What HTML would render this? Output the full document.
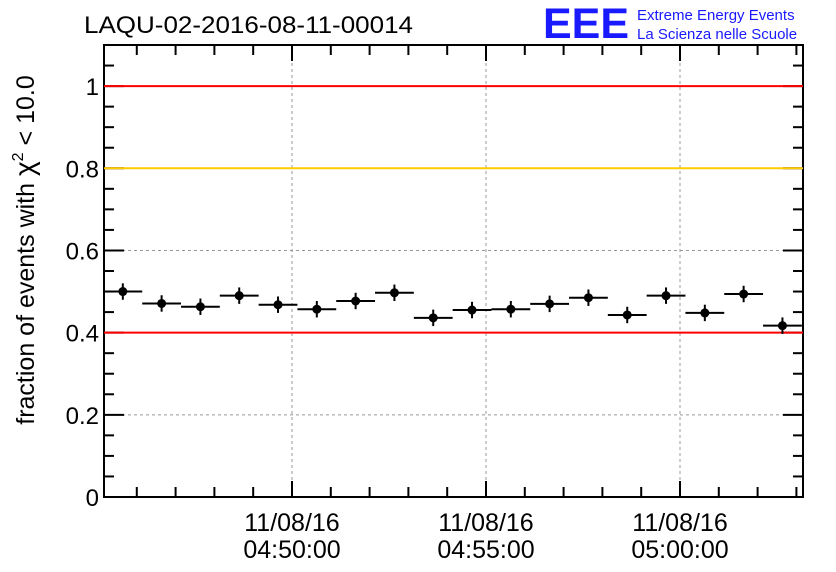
<!DOCTYPE html>
<html><head><meta charset="utf-8"><style>
html,body{margin:0;padding:0;background:#fff;}
svg{display:block;font-family:"Liberation Sans",Arial,sans-serif;}
</style></head><body>
<svg id="c" width="836" height="572" viewBox="0 0 836 572">
<rect x="0" y="0" width="836" height="572" fill="#fff"/>
<text x="84" y="33" font-size="24" fill="#000" textLength="329" lengthAdjust="spacingAndGlyphs">LAQU-02-2016-08-11-00014</text>
<text x="543" y="38" font-size="43" font-weight="bold" fill="#1a1aff" textLength="86" lengthAdjust="spacingAndGlyphs">EEE</text>
<text x="637" y="20" font-size="15" fill="#1a1aff">Extreme Energy Events</text>
<text x="637" y="39" font-size="15" fill="#1a1aff">La Scienza nelle Scuole</text>
<text transform="translate(34,250) rotate(-90)" text-anchor="middle" font-size="25">fraction of events with <tspan font-size="28">χ</tspan><tspan dy="-11" font-size="16">2</tspan><tspan dy="11"> &lt; 10.0</tspan></text>
<g id="grid"></g><g id="axes"></g><g id="marks"></g>
</svg>
<script>
const timeLabels=["04:50:00","04:55:00","05:00:00"];
const timeTicks=[0,5,10];
const yTicks=[0,0.2,0.4,0.6,0.8,1];
const yTickLabels=["0","0.2","0.4","0.6","0.8","1"];
const binCenters=[-4.36,-3.36,-2.36,-1.36,-0.36,0.64,1.64,2.64,3.64,4.64,5.64,6.64,7.64,8.64,9.64,10.64,11.64,12.64];
const fractions=[0.500,0.471,0.463,0.490,0.468,0.457,0.477,0.497,0.436,0.455,0.457,0.470,0.485,0.443,0.490,0.448,0.494,0.417];
const errors=[0.02,0.02,0.02,0.02,0.02,0.02,0.02,0.02,0.02,0.02,0.02,0.02,0.02,0.02,0.02,0.02,0.02,0.02];
const refLines=[1,0.8,0.4];
const refColors=["#ff0000","#ffcc00","#ff0000"];
const L=104,R=803,T=45,B=497;
const xMin=-4.845,xMax=13.17,yMin=0,yMax=1.1;
const X=v=>L+(v-xMin)/(xMax-xMin)*(R-L);
const Y=v=>B-(v-yMin)/(yMax-yMin)*(B-T);
const NS="http://www.w3.org/2000/svg";
function mk(p,tag,a){const e=document.createElementNS(NS,tag);for(const k in a)e.setAttribute(k,a[k]);p.appendChild(e);return e;}
const grid=document.getElementById('grid'),axes=document.getElementById('axes'),marks=document.getElementById('marks');
yTicks.forEach((v,i)=>{
 if(v>0&&v<1){const g=mk(grid,'line',{x1:L,x2:R,y1:Y(v),y2:Y(v),stroke:'#999','stroke-dasharray':'3,3','stroke-width':1});
 
 }
 const t=mk(axes,'text',{x:L-5,y:Y(v)+9,'text-anchor':'end','font-size':24});t.textContent=yTickLabels[i];
 
 
});
timeTicks.forEach((v,i)=>{
 const g=mk(grid,'line',{x1:X(v),x2:X(v),y1:T,y2:B,stroke:'#999','stroke-dasharray':'3,3','stroke-width':1});
 
 
 const t1=mk(axes,'text',{x:X(v),y:531,'text-anchor':'middle','font-size':25});t1.textContent="11/08/16";
 
 
 const t2=mk(axes,'text',{x:X(v),y:558,'text-anchor':'middle','font-size':25});t2.textContent=timeLabels[i];
 
 
});
mk(axes,'rect',{x:L,y:T,width:R-L,height:B-T,fill:'none',stroke:'#000','stroke-width':2});
for(let m=Math.ceil(xMin);m<=xMax;m++){const big=m%5===0;const h=big?16:10;
 mk(axes,'line',{x1:X(m),x2:X(m),y1:B,y2:B-h,stroke:'#000','stroke-width':2});
 mk(axes,'line',{x1:X(m),x2:X(m),y1:T,y2:T+h,stroke:'#000','stroke-width':2});}
for(let k=0;k<=22;k++){const v=k*0.05;const big=k%4===0;const w=big?20:10;
 mk(axes,'line',{x1:L,x2:L+w,y1:Y(v),y2:Y(v),stroke:'#000','stroke-width':2});
 mk(axes,'line',{x1:R,x2:R-w,y1:Y(v),y2:Y(v),stroke:'#000','stroke-width':2});}
refLines.forEach((v,i)=>{const l=mk(marks,'line',{x1:L,x2:R,y1:Y(v),y2:Y(v),stroke:refColors[i],'stroke-width':2});
 
 });
fractions.forEach((v,i)=>{
 const g=mk(marks,'g',{});
 
 
 const c=binCenters[i];
 mk(g,'line',{x1:X(c-0.5),x2:X(c+0.5),y1:Y(v),y2:Y(v),stroke:'#000','stroke-width':2});
 mk(g,'line',{x1:X(c),x2:X(c),y1:Y(v+errors[i]),y2:Y(v-errors[i]),stroke:'#000','stroke-width':2});
 mk(g,'circle',{cx:X(c),cy:Y(v),r:4.5,fill:'#000'});
});
</script>
</body></html>
